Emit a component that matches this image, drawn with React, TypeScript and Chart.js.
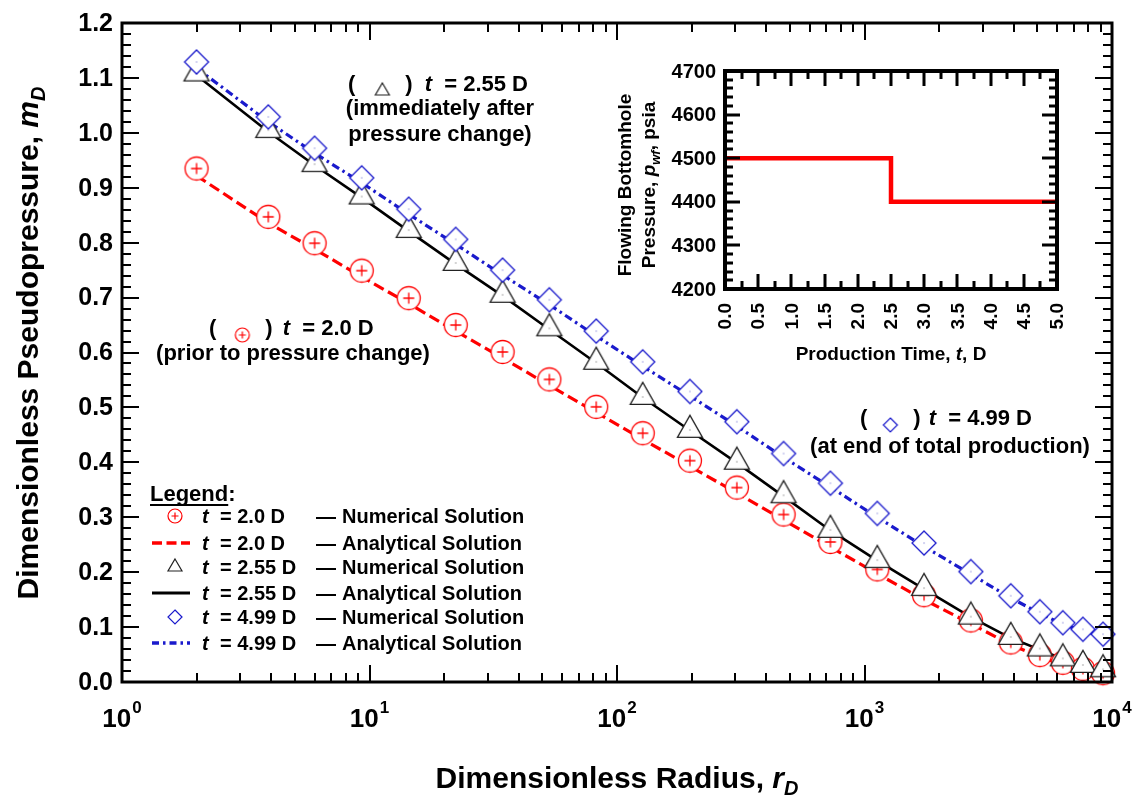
import React, { useEffect, useRef } from 'react';
import { Chart, registerables } from 'chart.js';
Chart.register(...registerables);

const FONT = '"Liberation Sans", Arial, Helvetica, sans-serif';

// ---------- data ----------
const radiusNumerical = [2, 3.9, 6.0, 9.3, 14.4, 22.3, 34.5, 53.3, 82.4, 127, 197, 305, 471, 728, 1126, 1740, 2690, 3900, 5110, 6330, 7630, 9200];
const mdNumT200 = [0.935, 0.847, 0.799, 0.749, 0.699, 0.650, 0.601, 0.551, 0.501, 0.453, 0.403, 0.354, 0.305, 0.255, 0.205, 0.158, 0.112, 0.072, 0.049, 0.035, 0.024, 0.016];
const mdNumT255 = [1.108, 1.005, 0.943, 0.884, 0.823, 0.763, 0.705, 0.644, 0.583, 0.519, 0.459, 0.401, 0.340, 0.277, 0.222, 0.171, 0.119, 0.082, 0.061, 0.043, 0.031, 0.023];
const mdNumT499 = [1.129, 1.029, 0.972, 0.918, 0.861, 0.806, 0.750, 0.696, 0.639, 0.583, 0.529, 0.474, 0.416, 0.362, 0.307, 0.253, 0.201, 0.157, 0.128, 0.108, 0.096, 0.087];

const radiusAnalytical = [2, 3.9, 6.0, 9.3, 14.4, 22.3, 34.5, 53.3, 82.4, 127, 197, 305, 471, 728, 1126, 1740, 2690, 3900, 5110, 6330, 7630, 9200, 10000];
const mdAnaT200 = [0.922, 0.836, 0.788, 0.738, 0.689, 0.639, 0.590, 0.540, 0.491, 0.442, 0.393, 0.344, 0.295, 0.246, 0.197, 0.150, 0.106, 0.068, 0.046, 0.032, 0.021, 0.013, 0.010];
const mdAnaT255 = [1.105, 1.002, 0.941, 0.882, 0.821, 0.761, 0.703, 0.642, 0.581, 0.518, 0.458, 0.399, 0.338, 0.276, 0.221, 0.169, 0.118, 0.080, 0.059, 0.042, 0.030, 0.022, 0.019];
const mdAnaT499 = [1.118, 1.020, 0.963, 0.909, 0.852, 0.797, 0.741, 0.687, 0.630, 0.575, 0.521, 0.466, 0.409, 0.355, 0.300, 0.247, 0.196, 0.153, 0.125, 0.105, 0.093, 0.084, 0.081];

const yTickValues = [0, 0.1, 0.2, 0.3, 0.4, 0.5, 0.6, 0.7, 0.8, 0.9, 1.0, 1.1, 1.2];
const yTickLabels = ['0.0', '0.1', '0.2', '0.3', '0.4', '0.5', '0.6', '0.7', '0.8', '0.9', '1.0', '1.1', '1.2'];
const xTickExponents = [0, 1, 2, 3, 4];

const insetTime = [0, 2.5, 2.5, 5.0];
const insetPressure = [4500, 4500, 4400, 4400];
const insetXTicks = [0, 0.5, 1.0, 1.5, 2.0, 2.5, 3.0, 3.5, 4.0, 4.5, 5.0];
const insetXLabels = ['0.0', '0.5', '1.0', '1.5', '2.0', '2.5', '3.0', '3.5', '4.0', '4.5', '5.0'];
const insetYTicks = [4200, 4300, 4400, 4500, 4600, 4700];

const RED = '#ff0000';
const BLUE = '#1a1acc';
const BLACK = '#000000';

// ---------- marker images ----------
function makeCanvas(size: number, draw: (g: CanvasRenderingContext2D, c: number) => void) {
  const cv = document.createElement('canvas');
  cv.width = size;
  cv.height = size;
  const g = cv.getContext('2d')!;
  draw(g, size / 2);
  return cv;
}
function circlePlus(size: number, r: number, arm: number, lw: number) {
  return makeCanvas(size, (g, c) => {
    g.beginPath();
    g.arc(c, c, r, 0, Math.PI * 2);
    g.fillStyle = '#fff';
    g.fill();
    g.lineWidth = lw;
    g.strokeStyle = RED;
    g.stroke();
    g.beginPath();
    g.moveTo(c - arm, c);
    g.lineTo(c + arm, c);
    g.moveTo(c, c - arm);
    g.lineTo(c, c + arm);
    g.stroke();
  });
}
function triangle(size: number, w: number, h: number, lw: number, dot: boolean) {
  return makeCanvas(size, (g, c) => {
    g.beginPath();
    g.moveTo(c, c - (2 / 3) * h);
    g.lineTo(c + w / 2, c + h / 3);
    g.lineTo(c - w / 2, c + h / 3);
    g.closePath();
    g.fillStyle = '#fff';
    g.fill();
    g.lineWidth = lw;
    g.strokeStyle = '#222';
    g.stroke();
    if (dot) {
      g.fillStyle = '#555';
      g.fillRect(c - 0.5, c - 0.5, 1, 1);
    }
  });
}
function diamond(size: number, hd: number, lw: number, dot: boolean) {
  return makeCanvas(size, (g, c) => {
    g.beginPath();
    g.moveTo(c, c - hd);
    g.lineTo(c + hd, c);
    g.lineTo(c, c + hd);
    g.lineTo(c - hd, c);
    g.closePath();
    g.fillStyle = '#fff';
    g.fill();
    g.lineWidth = lw;
    g.strokeStyle = BLUE;
    g.stroke();
    if (dot) {
      g.fillStyle = '#55c';
      g.fillRect(c - 0.5, c - 0.5, 1, 1);
    }
  });
}

// ---------- rich text ----------
type Seg = { t?: string; f?: string; dy?: number; gap?: number; img?: HTMLCanvasElement; w?: number; underline?: boolean };
function bold(px: number) { return `bold ${px}px ${FONT}`; }
function boldIt(px: number) { return `italic bold ${px}px ${FONT}`; }
function drawSegs(ctx: CanvasRenderingContext2D, segs: Seg[], x: number, y: number, align: 'left' | 'center') {
  ctx.textBaseline = 'alphabetic';
  ctx.textAlign = 'left';
  const widths = segs.map((s) => {
    if (s.gap !== undefined) return s.gap;
    if (s.img) return s.w ?? s.img.width;
    ctx.font = s.f!;
    return ctx.measureText(s.t!).width;
  });
  const total = widths.reduce((p, v) => p + v, 0);
  let cx = align === 'center' ? x - total / 2 : x;
  segs.forEach((s, i) => {
    if (s.img) {
      ctx.drawImage(s.img, cx + widths[i] / 2 - s.img.width / 2, y + (s.dy || 0) - s.img.height / 2);
    } else if (s.t !== undefined) {
      ctx.font = s.f!;
      ctx.fillText(s.t, cx, y + (s.dy || 0));
      if (s.underline) {
        ctx.fillRect(cx, y + 3, widths[i], 2);
      }
    }
    cx += widths[i];
  });
}

export default function App() {
  const mainRef = useRef<HTMLCanvasElement>(null);
  const insetRef = useRef<HTMLCanvasElement>(null);

  useEffect(() => {
    const imgCircle = circlePlus(28, 11.5, 5.5, 1.3);
    const imgTri = triangle(34, 25, 22, 1.3, true);
    const imgDia = diamond(30, 12, 1.3, true);
    const sCircle = circlePlus(18, 7, 3.5, 1.2);
    const sTri = triangle(20, 14, 12, 1.2, false);
    const sDia = diamond(18, 7, 1.2, false);

    const pts = (xs: number[], ys: number[]) => xs.map((x, i) => ({ x, y: ys[i] }));

    const mainPlugin = {
      id: 'mainDecor',
      afterDraw(chart: any) {
        const ctx: CanvasRenderingContext2D = chart.ctx;
        const a = chart.chartArea;
        const xs = chart.scales.x;
        const ys = chart.scales.y;
        ctx.save();
        ctx.strokeStyle = '#000';
        ctx.fillStyle = '#000';
        // x ticks (inward, bottom and top)
        ctx.lineWidth = 2;
        ctx.beginPath();
        for (let d = 0; d < 4; d++) {
          for (let k = 1; k <= 9; k++) {
            const v = Math.pow(10, d) * k;
            if (v === 1) continue;
            const px = Math.round(xs.getPixelForValue(v));
            const len = k === 1 ? 17 : 9;
            ctx.moveTo(px, a.bottom);
            ctx.lineTo(px, a.bottom - len);
            ctx.moveTo(px, a.top);
            ctx.lineTo(px, a.top + len);
          }
        }
        // y ticks (inward, left and right)
        for (let i = 1; i < 60; i++) {
          const py = Math.round(ys.getPixelForValue(i * 0.02));
          const len = i % 5 === 0 ? 17 : 9;
          ctx.moveTo(a.left, py);
          ctx.lineTo(a.left + len, py);
          ctx.moveTo(a.right, py);
          ctx.lineTo(a.right - len, py);
        }
        ctx.stroke();
        // frame
        ctx.lineWidth = 3;
        ctx.strokeRect(a.left, a.top, a.right - a.left, a.bottom - a.top);

        // y tick labels
        ctx.font = bold(25);
        ctx.textAlign = 'right';
        ctx.textBaseline = 'middle';
        yTickValues.forEach((v, i) => {
          ctx.fillText(yTickLabels[i], a.left - 9, ys.getPixelForValue(v) + 1);
        });
        // x tick labels 10^n
        xTickExponents.forEach((e) => {
          const px = xs.getPixelForValue(Math.pow(10, e));
          ctx.textAlign = 'left';
          ctx.textBaseline = 'alphabetic';
          ctx.font = bold(26);
          const bw = ctx.measureText('10').width;
          ctx.font = bold(17);
          const sw = ctx.measureText(String(e)).width;
          const start = px - (bw + sw + 1) / 2;
          ctx.font = bold(26);
          ctx.fillText('10', start, 727);
          ctx.font = bold(17);
          ctx.fillText(String(e), start + bw + 1, 713);
        });
        // axis titles
        drawSegs(ctx, [
          { t: 'Dimensionless Radius, ', f: bold(30) },
          { t: 'r', f: boldIt(30) },
          { t: 'D', f: boldIt(20), dy: 7 },
        ], (a.left + a.right) / 2, 788, 'center');
        ctx.save();
        ctx.translate(38, 343);
        ctx.rotate(-Math.PI / 2);
        drawSegs(ctx, [
          { t: 'Dimensionless Pseudopressure, ', f: bold(30) },
          { t: 'm', f: boldIt(30) },
          { t: 'D', f: boldIt(20), dy: 7 },
        ], 0, 0, 'center');
        ctx.restore();

        // annotations
        const F = 22;
        drawSegs(ctx, [
          { t: '(', f: bold(F) }, { gap: 20 }, { img: sTri, w: 14 }, { gap: 16 }, { t: ')', f: bold(F) }, { gap: 12 },
          { t: 't', f: boldIt(F) }, { t: '  = 2.55 D', f: bold(F) },
        ], 348, 91, 'left');
        drawSegs(ctx, [{ t: '(immediately after', f: bold(F) }], 440, 115, 'center');
        drawSegs(ctx, [{ t: 'pressure change)', f: bold(F) }], 440, 141, 'center');

        drawSegs(ctx, [
          { t: '(', f: bold(F) }, { gap: 18 }, { img: sCircle, w: 16 }, { gap: 15 }, { t: ')', f: bold(F) }, { gap: 10 },
          { t: 't', f: boldIt(F) }, { t: '  = 2.0 D', f: bold(F) },
        ], 209, 335, 'left');
        drawSegs(ctx, [{ t: '(prior to pressure change)', f: bold(F) }], 293, 360, 'center');

        drawSegs(ctx, [
          { t: '(', f: bold(F) }, { gap: 15 }, { img: sDia, w: 16 }, { gap: 15 }, { t: ')', f: bold(F) }, { gap: 8 },
          { t: 't', f: boldIt(F) }, { t: '  = 4.99 D', f: bold(F) },
        ], 860, 425, 'left');
        drawSegs(ctx, [{ t: '(at end of total production)', f: bold(F) }], 950, 453, 'center');

        // legend
        drawSegs(ctx, [{ t: 'Legend', f: bold(22), underline: true }, { t: ':', f: bold(22) }], 150, 501, 'left');
        const rowsY = [516, 543, 567, 593, 617, 643];
        const rowLabels = ['= 2.0 D', '= 2.0 D', '= 2.55 D', '= 2.55 D', '= 4.99 D', '= 4.99 D'];
        const rowKinds = ['Numerical Solution', 'Analytical Solution', 'Numerical Solution', 'Analytical Solution', 'Numerical Solution', 'Analytical Solution'];
        rowsY.forEach((ry, i) => {
          // symbol
          if (i === 0) ctx.drawImage(sCircle, 175 - sCircle.width / 2, ry - sCircle.height / 2);
          if (i === 2) ctx.drawImage(sTri, 175 - sTri.width / 2, ry - sTri.height / 2);
          if (i === 4) ctx.drawImage(sDia, 175 - sDia.width / 2, ry - sDia.height / 2);
          if (i === 1 || i === 3 || i === 5) {
            ctx.save();
            ctx.beginPath();
            ctx.moveTo(152, ry);
            ctx.lineTo(190, ry);
            if (i === 1) { ctx.strokeStyle = RED; ctx.lineWidth = 3.3; ctx.setLineDash([10, 4.5]); }
            if (i === 3) { ctx.strokeStyle = BLACK; ctx.lineWidth = 3; ctx.setLineDash([]); }
            if (i === 5) { ctx.strokeStyle = BLUE; ctx.lineWidth = 3.3; ctx.setLineDash([7, 4, 2.5, 4]); }
            ctx.stroke();
            ctx.restore();
          }
          const by = ry + 7;
          ctx.fillStyle = '#000';
          drawSegs(ctx, [{ t: 't', f: boldIt(20) }], 202, by, 'left');
          drawSegs(ctx, [{ t: rowLabels[i], f: bold(20) }], 220, by, 'left');
          drawSegs(ctx, [{ t: '\u2014', f: bold(20) }], 316, by, 'left');
          drawSegs(ctx, [{ t: rowKinds[i], f: bold(20) }], 342, by, 'left');
        });
        ctx.restore();
      },
    };

    const main = new Chart(mainRef.current!, {
      type: 'scatter',
      data: {
        datasets: [
          { label: 't = 4.99 D Numerical', data: pts(radiusNumerical, mdNumT499), showLine: false, pointStyle: imgDia as any, pointRadius: 12, order: 1, clip: false as any },
          { label: 't = 2.55 D Numerical', data: pts(radiusNumerical, mdNumT255), showLine: false, pointStyle: imgTri as any, pointRadius: 12, order: 2, clip: false as any },
          { label: 't = 2.0 D Numerical', data: pts(radiusNumerical, mdNumT200), showLine: false, pointStyle: imgCircle as any, pointRadius: 12, order: 3, clip: false as any },
          { label: 't = 2.55 D Analytical', data: pts(radiusAnalytical, mdAnaT255), showLine: true, pointRadius: 0, borderColor: BLACK, borderWidth: 2.6, order: 4 },
          { label: 't = 4.99 D Analytical', data: pts(radiusAnalytical, mdAnaT499), showLine: true, pointRadius: 0, borderColor: BLUE, borderWidth: 3.2, borderDash: [8, 4, 2.5, 4], order: 5 },
          { label: 't = 2.0 D Analytical', data: pts(radiusAnalytical, mdAnaT200), showLine: true, pointRadius: 0, borderColor: RED, borderWidth: 3.2, borderDash: [11, 5], order: 6 },
        ] as any,
      },
      options: {
        animation: false,
        responsive: false,
        events: [],
        layout: { padding: { left: 122, right: 21, top: 23, bottom: 115 } },
        plugins: { legend: { display: false }, tooltip: { enabled: false } },
        elements: { line: { tension: 0 } },
        scales: {
          x: { type: 'logarithmic', min: 1, max: 10000, display: false },
          y: { type: 'linear', min: 0, max: 1.2, display: false },
        },
      } as any,
      plugins: [mainPlugin],
    });

    const insetPlugin = {
      id: 'insetDecor',
      afterDraw(chart: any) {
        const ctx: CanvasRenderingContext2D = chart.ctx;
        const a = chart.chartArea;
        const xs = chart.scales.x;
        const ys = chart.scales.y;
        ctx.save();
        ctx.strokeStyle = '#000';
        ctx.fillStyle = '#000';
        ctx.lineWidth = 3;
        ctx.beginPath();
        for (let i = 1; i < 20; i++) {
          const px = Math.round(xs.getPixelForValue(i * 0.25));
          const len = i % 2 === 0 ? 15 : 8;
          ctx.moveTo(px, a.bottom);
          ctx.lineTo(px, a.bottom - len);
          ctx.moveTo(px, a.top);
          ctx.lineTo(px, a.top + len);
        }
        for (let i = 1; i < 25; i++) {
          const py = Math.round(ys.getPixelForValue(4200 + i * 20));
          const len = i % 5 === 0 ? 15 : 8;
          ctx.moveTo(a.left, py);
          ctx.lineTo(a.left + len, py);
          ctx.moveTo(a.right, py);
          ctx.lineTo(a.right - len, py);
        }
        ctx.stroke();
        ctx.lineWidth = 4;
        ctx.strokeRect(a.left, a.top, a.right - a.left, a.bottom - a.top);

        ctx.font = bold(20);
        ctx.textAlign = 'right';
        ctx.textBaseline = 'middle';
        insetYTicks.forEach((v) => ctx.fillText(String(v), a.left - 9, ys.getPixelForValue(v) + 1));

        insetXTicks.forEach((v, i) => {
          ctx.save();
          ctx.translate(xs.getPixelForValue(v) + 1, a.bottom + 14);
          ctx.rotate(-Math.PI / 2);
          ctx.font = bold(19);
          ctx.textAlign = 'right';
          ctx.textBaseline = 'middle';
          ctx.fillText(insetXLabels[i], 0, 0);
          ctx.restore();
        });

        drawSegs(ctx, [
          { t: 'Production Time, ', f: bold(19) },
          { t: 't', f: boldIt(19) },
          { t: ', D', f: bold(19) },
        ], (a.left + a.right) / 2, 305, 'center');

        ctx.save();
        ctx.translate(41, 130);
        ctx.rotate(-Math.PI / 2);
        drawSegs(ctx, [{ t: 'Flowing Bottomhole', f: bold(19) }], 0, 0, 'center');
        ctx.restore();
        ctx.save();
        ctx.translate(65, 130);
        ctx.rotate(-Math.PI / 2);
        drawSegs(ctx, [
          { t: 'Pressure, ', f: bold(19) },
          { t: 'p', f: boldIt(19) },
          { t: 'wf', f: boldIt(13), dy: 5 },
          { t: ', psia', f: bold(19) },
        ], 0, 0, 'center');
        ctx.restore();
        ctx.restore();
      },
    };

    const inset = new Chart(insetRef.current!, {
      type: 'scatter',
      data: {
        datasets: [
          { label: 'pwf', data: pts(insetTime, insetPressure), showLine: true, pointRadius: 0, borderColor: RED, borderWidth: 4.5 },
        ] as any,
      },
      options: {
        animation: false,
        responsive: false,
        events: [],
        layout: { padding: { left: 135, right: 33, top: 16, bottom: 86 } },
        plugins: { legend: { display: false }, tooltip: { enabled: false } },
        scales: {
          x: { type: 'linear', min: 0, max: 5, display: false },
          y: { type: 'linear', min: 4200, max: 4700, display: false },
        },
      } as any,
      plugins: [insetPlugin],
    });

    return () => {
      main.destroy();
      inset.destroy();
    };
  }, []);

  return (
    <div style={{ position: 'fixed', left: 0, top: 0, width: 1133, height: 797, background: '#fff' }}>
      <canvas ref={mainRef} width={1133} height={797} style={{ position: 'absolute', left: 0, top: 0, width: 1133, height: 797 }} />
      <canvas ref={insetRef} width={500} height={320} style={{ position: 'absolute', left: 590, top: 55, width: 500, height: 320 }} />
    </div>
  );
}
